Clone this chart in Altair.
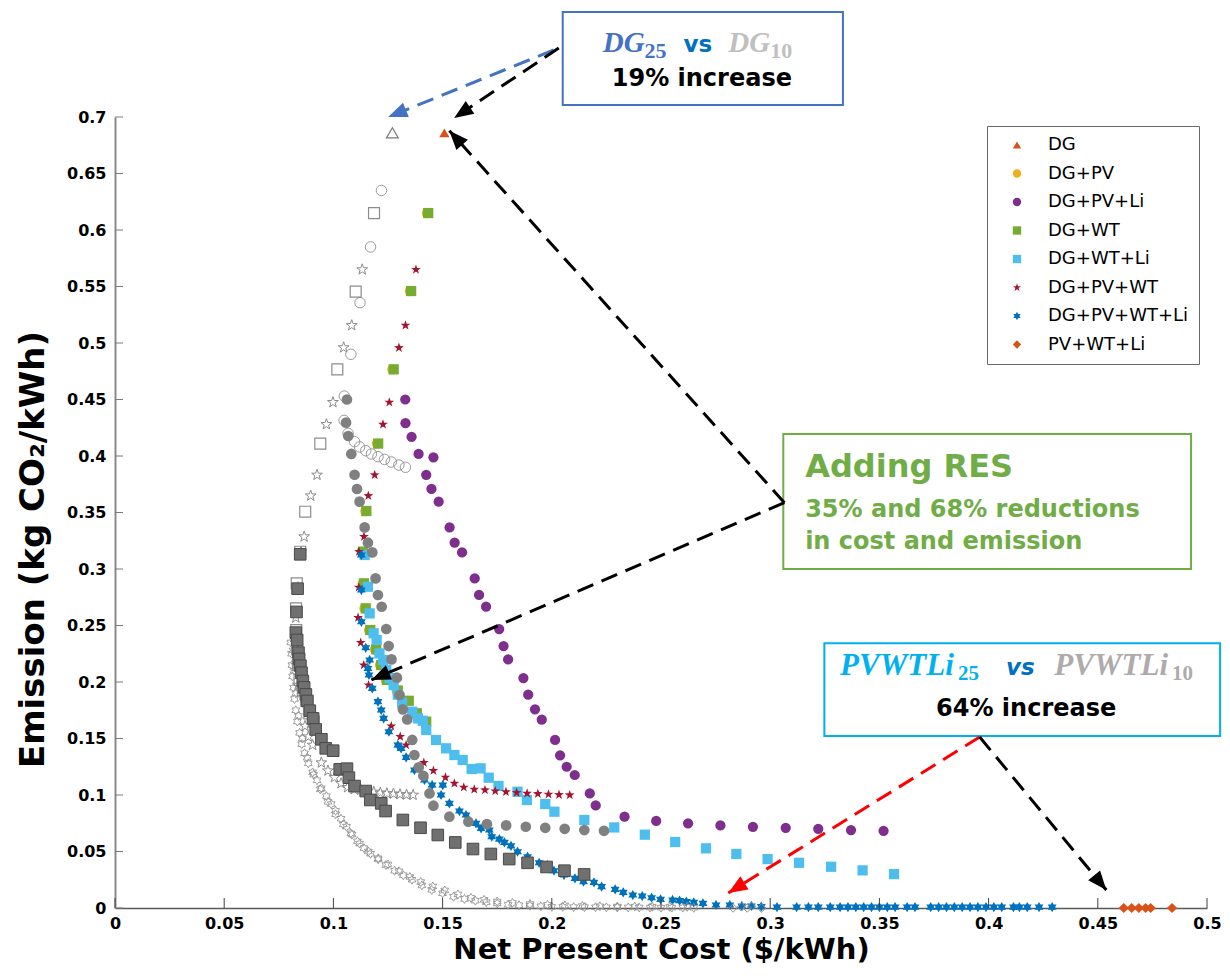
import math
import altair as alt
import pandas as pd

# ---------------- axes ----------------
X_TICKS = [0, 0.05, 0.1, 0.15, 0.2, 0.25, 0.3, 0.35, 0.4, 0.45, 0.5]
Y_TICKS = [0, 0.05, 0.1, 0.15, 0.2, 0.25, 0.3, 0.35, 0.4, 0.45, 0.5, 0.55, 0.6, 0.65, 0.7]
X_DOMAIN = [0, 0.5]
Y_DOMAIN = [0, 0.7]
W, H = 1092, 791

# ---------------- legend series (25-year) ----------------
SERIES = ["DG", "DG+PV", "DG+PV+Li", "DG+WT", "DG+WT+Li", "DG+PV+WT", "DG+PV+WT+Li", "PV+WT+Li"]
COLORS = ["#D95319", "#EDB120", "#7E2F8E", "#77AC30", "#4DBEEE", "#A2142F", "#0072BD", "#D95319"]

DG = [(0.1508, 0.686)]
DG_PV = [(0.1428, 0.615), (0.1350, 0.546), (0.1270, 0.4767), (0.1199, 0.411), (0.1146, 0.3513),
         (0.1130, 0.3153), (0.1134, 0.2873), (0.1142, 0.2652), (0.1163, 0.246), (0.1190, 0.2289),
         (0.1213, 0.215), (0.1240, 0.2018), (0.1290, 0.1925), (0.1340, 0.1834), (0.1377, 0.1723),
         (0.1420, 0.1649)]
DG_WT = [(0.1434, 0.615), (0.1356, 0.546), (0.1276, 0.4767), (0.1205, 0.411), (0.1151, 0.3513),
         (0.1135, 0.3153), (0.1140, 0.2873), (0.1148, 0.2652), (0.1169, 0.246), (0.1196, 0.2289),
         (0.1219, 0.215), (0.1245, 0.2018), (0.1295, 0.1925), (0.1345, 0.1834), (0.1382, 0.1723),
         (0.1425, 0.1649)]
DG_PV_LI = [(0.1329, 0.450), (0.1330, 0.429), (0.1358, 0.417), (0.1390, 0.4018), (0.1458, 0.3988),
            (0.1425, 0.3834), (0.1449, 0.3708), (0.1482, 0.3596), (0.1532, 0.3368), (0.1555, 0.3233),
            (0.1589, 0.3147), (0.1647, 0.2917), (0.1667, 0.277), (0.1699, 0.2666), (0.1759, 0.2469),
            (0.1779, 0.2318), (0.1800, 0.220), (0.1870, 0.2035), (0.1892, 0.1888), (0.1923, 0.1758),
            (0.1954, 0.1666), (0.2015, 0.1487), (0.2038, 0.1351), (0.2068, 0.125), (0.2105, 0.1177),
            (0.2174, 0.1014), (0.2201, 0.0908), (0.2333, 0.0808), (0.2478, 0.077), (0.2624, 0.0749),
            (0.2772, 0.0731), (0.2921, 0.0719), (0.3071, 0.071), (0.3220, 0.0701), (0.3370, 0.069),
            (0.3519, 0.0683)]
DG_WT_LI = [(0.1143, 0.3124), (0.1158, 0.2843), (0.1166, 0.2607), (0.1184, 0.2431), (0.1198, 0.2372),
            (0.1211, 0.2253), (0.1228, 0.2195), (0.1242, 0.2106), (0.1258, 0.2035), (0.1276, 0.1973),
            (0.1295, 0.1888), (0.1315, 0.1817), (0.1361, 0.1737), (0.1387, 0.1678), (0.1409, 0.1657),
            (0.1425, 0.1575), (0.1470, 0.1487), (0.1516, 0.1413), (0.1554, 0.1354), (0.1592, 0.131),
            (0.1633, 0.123), (0.1674, 0.1236), (0.1711, 0.1153), (0.1756, 0.108), (0.1843, 0.1029),
            (0.1886, 0.0956), (0.1970, 0.092), (0.2012, 0.0852), (0.2149, 0.0779), (0.2286, 0.0713),
            (0.2426, 0.0649), (0.2565, 0.0584), (0.2706, 0.0528), (0.2845, 0.0478), (0.2988, 0.0433),
            (0.3132, 0.040), (0.3279, 0.0365), (0.3423, 0.0333), (0.3567, 0.030)]
DG_PV_WT = [(0.1378, 0.565), (0.1330, 0.5156), (0.1300, 0.4958), (0.1256, 0.4475), (0.1227, 0.428),
            (0.1189, 0.3832), (0.1160, 0.3648), (0.1140, 0.3286), (0.1117, 0.3153), (0.1116, 0.2838),
            (0.1113, 0.2569), (0.1125, 0.2348), (0.1139, 0.215), (0.1161, 0.1973), (0.1265, 0.161),
            (0.1306, 0.1516), (0.1333, 0.1442), (0.1414, 0.1286), (0.1458, 0.1215), (0.1513, 0.1156),
            (0.1554, 0.1103), (0.1597, 0.1068), (0.1645, 0.105), (0.1694, 0.1044), (0.1741, 0.1035),
            (0.1790, 0.1027), (0.1839, 0.102), (0.1887, 0.1014), (0.1936, 0.1011), (0.1985, 0.1006),
            (0.2033, 0.1002), (0.2082, 0.100)]
DG_PV_WT_LI = [(0.1128, 0.3124), (0.1128, 0.2814), (0.1128, 0.2533), (0.1148, 0.2303), (0.1166, 0.2195),
               (0.1158, 0.212), (0.1163, 0.2062), (0.1178, 0.1944), (0.1204, 0.1826), (0.1219, 0.1752),
               (0.1230, 0.1678), (0.1254, 0.156), (0.1295, 0.1442), (0.1310, 0.1413), (0.1333, 0.1333),
               (0.1371, 0.1221), (0.1417, 0.1133), (0.1452, 0.1088), (0.1501, 0.1088), (0.1493, 0.100),
               (0.1531, 0.0926), (0.1577, 0.0858), (0.1607, 0.0823), (0.1653, 0.0749), (0.1676, 0.0704),
               (0.1714, 0.069), (0.1725, 0.0631), (0.1760, 0.061), (0.1783, 0.0581), (0.1813, 0.055),
               (0.1843, 0.0498), (0.1889, 0.0454), (0.1942, 0.040), (0.1980, 0.038), (0.2010, 0.033),
               (0.2056, 0.0292), (0.2106, 0.0262), (0.2145, 0.0233), (0.2193, 0.0227), (0.2228, 0.0189),
               (0.2290, 0.0165), (0.2327, 0.0138), (0.2371, 0.0115), (0.2414, 0.0106), (0.2457, 0.0091),
               (0.2498, 0.0076), (0.2553, 0.0071), (0.2585, 0.0065), (0.2616, 0.0056), (0.2650, 0.005),
               (0.2692, 0.0041), (0.2752, 0.0027), (0.2815, 0.0027), (0.2870, 0.0018), (0.2914, 0.0018),
               (0.2959, 0.0012), (0.3031, 0.0008), (0.3121, 0.0008), (0.3175, 0.0008), (0.3220, 0.0008),
               (0.3275, 0.0008), (0.3320, 0.0008), (0.3356, 0.0008), (0.3392, 0.0008), (0.3428, 0.0008),
               (0.3464, 0.0008), (0.3500, 0.0008), (0.3536, 0.0008), (0.3572, 0.0008), (0.3627, 0.0008),
               (0.3663, 0.0008), (0.3735, 0.0008), (0.3771, 0.0008), (0.3807, 0.0008), (0.3843, 0.0008),
               (0.3879, 0.0008), (0.3915, 0.0008), (0.3951, 0.0008), (0.3988, 0.0008), (0.4024, 0.0008),
               (0.4060, 0.0008), (0.4114, 0.0008), (0.4141, 0.0008), (0.4177, 0.0008), (0.4231, 0.0008),
               (0.4291, 0.0008)]
PV_WT_LI = [(0.4619, 0.0), (0.4655, 0.0), (0.4688, 0.0), (0.4719, 0.0), (0.4742, 0.0), (0.4840, 0.0)]

# ---------------- grey (10-year) series ----------------
G_TRIANGLE = [(0.1270, 0.686)]
G_OPEN_CIRCLE = [(0.1220, 0.635), (0.1170, 0.585), (0.1122, 0.5357), (0.1080, 0.490), (0.1050, 0.453),
                 (0.1049, 0.4315), (0.1067, 0.420), (0.1097, 0.4127), (0.1120, 0.408), (0.1148, 0.4047),
                 (0.1174, 0.4018), (0.1204, 0.3994), (0.1234, 0.397), (0.1265, 0.3947), (0.1300, 0.392),
                 (0.1330, 0.390)]
G_OPEN_SQUARE = [(0.1186, 0.615), (0.1102, 0.5454), (0.1018, 0.4767), (0.0940, 0.411), (0.0871, 0.3507),
                 (0.0848, 0.3153), (0.0832, 0.2873), (0.0829, 0.2652), (0.0830, 0.246), (0.0834, 0.2289),
                 (0.0838, 0.215), (0.0845, 0.2018), (0.0860, 0.1925), (0.0875, 0.1834), (0.0890, 0.1723),
                 (0.0910, 0.1649)]
G_OPEN_STAR = [(0.1132, 0.565), (0.1084, 0.5156), (0.1047, 0.496), (0.0998, 0.4475), (0.0968, 0.428),
               (0.0925, 0.3832), (0.0896, 0.3648), (0.0866, 0.3286), (0.0852, 0.3153), (0.0838, 0.2838),
               (0.0828, 0.2569), (0.0826, 0.2348), (0.0830, 0.215), (0.0838, 0.1973), (0.0870, 0.161),
               (0.0885, 0.1516), (0.0905, 0.1442), (0.0945, 0.1286), (0.0975, 0.1215), (0.1005, 0.1156),
               (0.1035, 0.1103), (0.1065, 0.1068), (0.1095, 0.105), (0.1125, 0.1044), (0.1155, 0.1035),
               (0.1185, 0.1027), (0.1215, 0.102), (0.1245, 0.1014), (0.1275, 0.1011), (0.1305, 0.1006),
               (0.1335, 0.1002), (0.1365, 0.100)]
G_OPEN_HEXA = [(0.0805, 0.235), (0.0808, 0.225), (0.0810, 0.215), (0.0813, 0.205), (0.0818, 0.195),
               (0.0822, 0.185), (0.0828, 0.175), (0.0835, 0.165), (0.0845, 0.155), (0.0855, 0.145),
               (0.0868, 0.137), (0.0885, 0.128), (0.0905, 0.120), (0.0925, 0.113), (0.0945, 0.106),
               (0.0968, 0.099), (0.0990, 0.092), (0.1010, 0.086), (0.1035, 0.079), (0.1060, 0.072),
               (0.1085, 0.065), (0.1110, 0.059), (0.1140, 0.053), (0.1170, 0.048), (0.1205, 0.043),
               (0.1240, 0.038), (0.1280, 0.033), (0.1320, 0.029), (0.1360, 0.025), (0.1405, 0.020),
               (0.1450, 0.016), (0.1500, 0.013), (0.1550, 0.010), (0.1600, 0.008), (0.1650, 0.0065),
               (0.1700, 0.0052), (0.1750, 0.004), (0.1800, 0.003), (0.1850, 0.0025), (0.1900, 0.002),
               (0.1950, 0.0015), (0.2000, 0.001), (0.2050, 0.001), (0.2100, 0.0008), (0.2150, 0.0008),
               (0.2200, 0.0007), (0.2250, 0.0006), (0.2300, 0.0005), (0.2350, 0.0005), (0.2400, 0.0004),
               (0.2450, 0.0004), (0.2500, 0.0003), (0.2550, 0.0003), (0.2600, 0.0003), (0.2650, 0.0002),
               (0.0815, 0.228), (0.0820, 0.210), (0.0828, 0.190), (0.0840, 0.170), (0.0858, 0.150),
               (0.0880, 0.133), (0.0910, 0.118), (0.0940, 0.105), (0.0975, 0.094), (0.1010, 0.083),
               (0.1045, 0.074), (0.1080, 0.066), (0.1120, 0.057), (0.1160, 0.050), (0.1205, 0.044),
               (0.1250, 0.0385), (0.1300, 0.0325), (0.1350, 0.0275), (0.1400, 0.023), (0.1455, 0.019),
               (0.1510, 0.0155), (0.1570, 0.012), (0.1630, 0.009), (0.1690, 0.0072), (0.1750, 0.0058),
               (0.1820, 0.0045), (0.1900, 0.0035), (0.1980, 0.0028), (0.2060, 0.0022), (0.2140, 0.0018),
               (0.2220, 0.0015), (0.2300, 0.0013), (0.2380, 0.0012), (0.2460, 0.0011), (0.2540, 0.001),
               (0.2620, 0.001)]
G_OPEN_DIAMOND = [(0.2830, 0.0), (0.2868, 0.001), (0.2895, 0.0), (0.2915, 0.0015), (0.2960, 0.0)]
G_FILLED_CIRCLE = [(0.1062, 0.450), (0.1058, 0.4295), (0.1068, 0.4177), (0.1082, 0.4018), (0.1097, 0.3834),
                   (0.1108, 0.3708), (0.1120, 0.3596), (0.1143, 0.3368), (0.1158, 0.3233), (0.1178, 0.3147),
                   (0.1193, 0.2917), (0.1204, 0.277), (0.1221, 0.2666), (0.1242, 0.2469), (0.1253, 0.2318),
                   (0.1266, 0.220), (0.1291, 0.2038), (0.1303, 0.1885), (0.1318, 0.1758), (0.1338, 0.1669),
                   (0.1361, 0.1487), (0.1371, 0.1354), (0.1391, 0.1245), (0.1412, 0.117), (0.1440, 0.1014),
                   (0.1458, 0.0905), (0.1531, 0.0808), (0.1618, 0.0764), (0.1703, 0.0743), (0.1791, 0.0731),
                   (0.1881, 0.0719), (0.1970, 0.071), (0.2059, 0.0701), (0.2149, 0.069), (0.2239, 0.0683)]
G_FILLED_SQUARE = [(0.0848, 0.313), (0.0836, 0.2826), (0.0831, 0.262), (0.0828, 0.2437), (0.0834, 0.2372),
                   (0.0840, 0.226), (0.0843, 0.2204), (0.0849, 0.2144), (0.0854, 0.2082), (0.0860, 0.2009),
                   (0.0866, 0.1952), (0.0874, 0.189), (0.0881, 0.1832), (0.0892, 0.1746), (0.0907, 0.1678),
                   (0.0919, 0.158), (0.0945, 0.1493), (0.0965, 0.1413), (0.0999, 0.1392), (0.1029, 0.1227),
                   (0.1062, 0.1233), (0.1071, 0.1153), (0.1097, 0.1079), (0.1148, 0.1035), (0.1169, 0.0956),
                   (0.1219, 0.0926), (0.1239, 0.0858), (0.1318, 0.0779), (0.1399, 0.071), (0.1478, 0.0646),
                   (0.1558, 0.058), (0.1639, 0.0522), (0.1721, 0.0478), (0.1805, 0.0433), (0.1889, 0.040),
                   (0.1976, 0.0363), (0.2058, 0.033), (0.2148, 0.0297)]

# ---------------- annotations (data units) ----------------
BOX_X0 = [0.2050, 0.3060, 0.3248]
BOX_X1 = [0.3333, 0.4927, 0.5060]
BOX_Y0 = [0.7106, 0.3000, 0.1522]
BOX_Y1 = [0.7930, 0.4195, 0.2342]
BOX_STROKE = ["#4472C4", "#70AD47", "#00B0F0"]

ARROW_X0 = [0.2009, 0.2032, 0.3065, 0.3065, 0.3959, 0.3959]
ARROW_Y0 = [0.7593, 0.7611, 0.3587, 0.3587, 0.1513, 0.1513]
ARROW_X1 = [0.1251, 0.1553, 0.1531, 0.1174, 0.2808, 0.4539]
ARROW_Y1 = [0.7000, 0.6991, 0.6879, 0.2018, 0.0133, 0.0159]
ARROW_COLOR = ["#4472C4", "#000000", "#000000", "#000000", "#FF0000", "#000000"]

SERIF_TEXT = ["DG", "DG", "PVWTLi", "PVWTLi"]
SERIF_X = [0.2233, 0.2808, 0.3320, 0.4301]
SERIF_Y = [0.7575, 0.7575, 0.2062, 0.2062]
SERIF_COLOR = ["#4472C4", "#BFBFBF", "#00B0F0", "#AFABAB"]
SERIF_SIZE = [29, 29, 31, 31]

SUB_TEXT = ["25", "10", "25", "10"]
SUB_X = [0.2425, 0.3000, 0.3860, 0.4840]
SUB_Y = [0.7522, 0.7522, 0.2018, 0.2018]
SUB_COLOR = ["#4472C4", "#BFBFBF", "#00B0F0", "#AFABAB"]
SUB_SIZE = [22, 22, 21, 21]

VS_X = [0.2603, 0.4080]
VS_Y = [0.7575, 0.2062]

CENTER_TEXT = ["19% increase", "64% increase"]
CENTER_X = [0.2687, 0.4172]
CENTER_Y = [0.7274, 0.1699]

GREEN_TEXT = ["Adding RES", "35% and 68% reductions", "in cost and emission"]
GREEN_X = [0.3160, 0.3160, 0.3160]
GREEN_Y = [0.3817, 0.3457, 0.3174]
GREEN_SIZE = [32, 24, 24]


# ---------------- helpers ----------------
def star_path(n, r_in):
    pts = []
    for k in range(2 * n):
        a = math.pi * k / n - math.pi / 2
        r = 1.0 if k % 2 == 0 else r_in
        pts.append(f"{r * math.cos(a):.3f},{r * math.sin(a):.3f}")
    return "M" + "L".join(pts) + "Z"


STAR = star_path(5, 0.40)
HEXA = star_path(6, 0.58)
SHAPES = ["triangle-up", "circle", "circle", "square", "square", STAR, HEXA, "diamond"]
ARROW_HEAD = "M0,0L0.85,2.1L-0.85,2.1Z"

XS = alt.Scale(domain=X_DOMAIN, nice=False, zero=False)
YS = alt.Scale(domain=Y_DOMAIN, nice=False, zero=False)

X_AXIS = alt.Axis(values=X_TICKS, format="~g", title="Net Present Cost ($/kWh)", ticks=False, grid=False,
                  domainColor="#5a5a5a", domainWidth=1.5, labelFont="DejaVu Sans", labelFontWeight="bold",
                  labelFontSize=16, labelColor="black", labelPadding=7, labelFlush=False, labelOverlap=False,
                  titleFont="DejaVu Sans", titleFontWeight="bold", titleFontSize=29, titleColor="black",
                  titleY=50, titleBaseline="alphabetic")
Y_AXIS = alt.Axis(values=Y_TICKS, format="~g", title="Emission (kg CO₂/kWh)", ticks=False, grid=False,
                  domainColor="#8a8a8a", domainWidth=2, labelFont="DejaVu Sans", labelFontWeight="bold",
                  labelFontSize=16, labelColor="black", labelPadding=9, labelFlush=False, labelOverlap=False,
                  titleFont="DejaVu Sans", titleFontWeight="bold", titleFontSize=34, titleColor="black",
                  titleAngle=270, titleX=-82, titleY=432, titleBaseline="middle", titleAlign="center")


def ex(field="x"):
    return alt.X(f"{field}:Q", scale=XS, axis=X_AXIS)


def ey(field="y"):
    return alt.Y(f"{field}:Q", scale=YS, axis=Y_AXIS)


def pts_df(pts):
    return pd.DataFrame({"x": [p[0] for p in pts], "y": [p[1] for p in pts]})


# ---------------- colored series ----------------
draw_order = [("DG+PV", DG_PV), ("DG+WT", DG_WT), ("DG+PV+Li", DG_PV_LI), ("DG+WT+Li", DG_WT_LI),
              ("DG+PV+WT", DG_PV_WT), ("DG+PV+WT+Li", DG_PV_WT_LI), ("PV+WT+Li", PV_WT_LI), ("DG", DG)]
col_df = pd.DataFrame([{"x": x, "y": y, "series": s} for s, pts in draw_order for x, y in pts])

LEG = alt.Legend(title=None, orient="none", legendX=872, legendY=9, padding=10,
                 strokeColor="#6a6a6a", fillColor="white", labelFont="DejaVu Sans",
                 labelFontSize=18, labelColor="black", rowPadding=10.5, symbolOffset=11,
                 labelOffset=22, symbolSize=70)

colored = alt.Chart(col_df).mark_point(filled=True, size=105, opacity=1).encode(
    x=ex(), y=ey(),
    color=alt.Color("series:N", scale=alt.Scale(domain=SERIES, range=COLORS), legend=LEG),
    shape=alt.Shape("series:N", scale=alt.Scale(domain=SERIES, range=SHAPES), legend=LEG),
)

GREY = "#8c8c8c"


def hollow(pts, shape, size, sw=1.1, color=GREY):
    return alt.Chart(pts_df(pts)).mark_point(shape=shape, filled=False, size=size, opacity=1,
                                             stroke=color, strokeWidth=sw).encode(x=ex(), y=ey())


grey_layers = [
    hollow(G_OPEN_HEXA, HEXA, 80, 0.9, "#939393"),
    hollow(G_OPEN_STAR, STAR, 130, 1.0),
    hollow(G_OPEN_DIAMOND, "diamond", 70, 1.0),
    hollow(G_OPEN_CIRCLE, "circle", 110, 1.0, "#9a9a9a"),
    hollow(G_OPEN_SQUARE, "square", 120, 1.2),
    hollow(G_TRIANGLE, "triangle-up", 140, 1.2, "#7a7a7a"),
    alt.Chart(pts_df(G_FILLED_CIRCLE)).mark_point(shape="circle", filled=True, size=115, opacity=1,
                                                  color="#808080").encode(x=ex(), y=ey()),
    alt.Chart(pts_df(G_FILLED_SQUARE)).mark_point(shape="square", filled=True, size=135, opacity=1,
                                                  fill="#707070", stroke="#4a4a4a", strokeWidth=1
                                                  ).encode(x=ex(), y=ey()),
]

# ---------------- inward ticks ----------------
xticks = alt.Chart(pd.DataFrame({"x": X_TICKS})).mark_rule(color="#404040", strokeWidth=1).encode(
    x=ex(), y=alt.value(H), y2=alt.value(H - 10))
yticks = alt.Chart(pd.DataFrame({"y": Y_TICKS})).mark_rule(color="#7a7a7a", strokeWidth=1).encode(
    y=ey(), x=alt.value(0), x2=alt.value(8))

# ---------------- annotation boxes ----------------
box_df = pd.DataFrame({"x": BOX_X0, "x2": BOX_X1, "y": BOX_Y0, "y2": BOX_Y1, "c": BOX_STROKE})
boxes = alt.Chart(box_df).mark_rect(fill="white", strokeWidth=2).encode(
    x=ex(), x2=alt.X2("x2:Q"), y=ey(), y2=alt.Y2("y2:Q"), stroke=alt.Stroke("c:N", scale=None))

# ---------------- arrows ----------------
angles = []
for x0, y0, x1, y1 in zip(ARROW_X0, ARROW_Y0, ARROW_X1, ARROW_Y1):
    dxp = (x1 - x0) * W / (X_DOMAIN[1] - X_DOMAIN[0])
    dyp = -(y1 - y0) * H / (Y_DOMAIN[1] - Y_DOMAIN[0])
    angles.append(math.degrees(math.atan2(dxp, -dyp)) % 360)
arrow_df = pd.DataFrame({"x": ARROW_X0, "y": ARROW_Y0, "x2": ARROW_X1, "y2": ARROW_Y1,
                         "c": ARROW_COLOR, "ang": angles})
arrow_lines = alt.Chart(arrow_df).mark_rule(strokeWidth=3, strokeDash=[17, 9]).encode(
    x=ex(), y=ey(), x2=alt.X2("x2:Q"), y2=alt.Y2("y2:Q"), color=alt.Color("c:N", scale=None))
arrow_heads = alt.Chart(arrow_df).mark_point(shape=ARROW_HEAD, filled=True, size=330, opacity=1).encode(
    x=ex("x2"), y=ey("y2"), angle=alt.Angle("ang:Q", scale=None), color=alt.Color("c:N", scale=None))

# ---------------- annotation texts ----------------
serif_df = pd.DataFrame({"x": SERIF_X, "y": SERIF_Y, "t": SERIF_TEXT, "c": SERIF_COLOR, "s": SERIF_SIZE})
serif = alt.Chart(serif_df).mark_text(align="left", baseline="alphabetic", font="Liberation Serif",
                                      fontWeight="bold", fontStyle="italic").encode(
    x=ex(), y=ey(), text="t:N", color=alt.Color("c:N", scale=None), size=alt.Size("s:Q", scale=None))

sub_df = pd.DataFrame({"x": SUB_X, "y": SUB_Y, "t": SUB_TEXT, "c": SUB_COLOR, "s": SUB_SIZE})
subs = alt.Chart(sub_df).mark_text(align="left", baseline="alphabetic", font="Liberation Serif",
                                   fontWeight="bold").encode(
    x=ex(), y=ey(), text="t:N", color=alt.Color("c:N", scale=None), size=alt.Size("s:Q", scale=None))

vs_top = alt.Chart(pd.DataFrame({"x": VS_X[:1], "y": VS_Y[:1], "t": ["vs"]})).mark_text(
    align="left", baseline="alphabetic", font="DejaVu Sans", fontWeight="bold", fontSize=23,
    color="#0070C0").encode(x=ex(), y=ey(), text="t:N")
vs_bot = alt.Chart(pd.DataFrame({"x": VS_X[1:], "y": VS_Y[1:], "t": ["vs"]})).mark_text(
    align="left", baseline="alphabetic", font="DejaVu Sans", fontWeight="bold", fontStyle="italic",
    fontSize=23, color="#0070C0").encode(x=ex(), y=ey(), text="t:N")

center = alt.Chart(pd.DataFrame({"x": CENTER_X, "y": CENTER_Y, "t": CENTER_TEXT})).mark_text(
    align="center", baseline="alphabetic", font="DejaVu Sans", fontWeight="bold", fontSize=24,
    color="black").encode(x=ex(), y=ey(), text="t:N")

green = alt.Chart(pd.DataFrame({"x": GREEN_X, "y": GREEN_Y, "t": GREEN_TEXT, "s": GREEN_SIZE})).mark_text(
    align="left", baseline="alphabetic", font="DejaVu Sans", fontWeight="bold", color="#70AD47").encode(
    x=ex(), y=ey(), text="t:N", size=alt.Size("s:Q", scale=None))

chart = alt.layer(
    colored, *grey_layers, xticks, yticks, boxes, arrow_lines, arrow_heads,
    serif, subs, vs_top, vs_bot, center, green,
).properties(
    width=W, height=H,
    autosize=alt.AutoSizeParams(type="none"),
    padding={"left": 107, "top": 109, "right": 15, "bottom": 60},
    background="white",
).configure_view(stroke=None)

chart.save("out.html", embed_options={"renderer": "svg", "actions": False})
